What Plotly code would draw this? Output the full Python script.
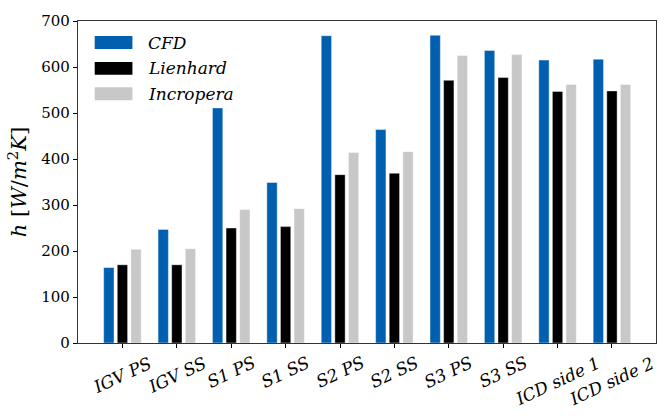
import plotly.graph_objects as go

categories = ["IGV PS", "IGV SS", "S1 PS", "S1 SS", "S2 PS", "S2 SS",
              "S3 PS", "S3 SS", "ICD side 1", "ICD side 2"]
cfd = [164, 247, 511, 349, 668, 464, 669, 636, 615, 617]
lienhard = [170, 170, 250, 253, 366, 369, 571, 577, 547, 548]
incropera = [204, 205, 290, 292, 414, 416, 625, 627, 562, 562]

series_names = ["CFD", "Lienhard", "Incropera"]
series_values = [cfd, lienhard, incropera]
colors = ["#005fae", "#000000", "#c8c8c8"]

W, H = 670, 416
L, R, T, B = 78.3, 656.0, 14.0, 343.3
SERIF = "DejaVu Serif"

fig = go.Figure()
bw = 0.19
offsets = [-0.25, 0.0, 0.25]
xs = list(range(len(categories)))
for name, vals, col, off in zip(series_names, series_values, colors, offsets):
    fig.add_trace(go.Bar(
        x=xs, y=vals, name=name, width=bw, offset=off - bw / 2,
        marker=dict(color=col, line=dict(width=0.6, color="rgba(255,255,255,0.7)")),
        showlegend=False,
    ))

def px_x(p):
    return (p - L) / (R - L)

def px_y(p):
    return (B - p) / (B - T)

shapes = []
annotations = []
# legend drawn manually (patch + label)
leg_rows = [(29.3, 42.7), (56.0, 69.0), (81.7, 95.0)]
for (y0, y1), name, col in zip(leg_rows, series_names, colors):
    shapes.append(dict(type="rect", xref="paper", yref="paper",
                       x0=px_x(95), x1=px_x(132.7), y0=px_y(y1), y1=px_y(y0),
                       fillcolor=col, line=dict(width=0)))
    annotations.append(dict(xref="paper", yref="paper", x=px_x(146), y=px_y((y0 + y1) / 2),
                            text="<i>%s</i>" % name, showarrow=False, xanchor="left",
                            yanchor="middle", font=dict(family=SERIF, size=17, color="black")))

# rotated category labels, centred below ticks
for i, c in enumerate(categories):
    annotations.append(dict(xref="x", yref="paper", x=i, y=0, yshift=-7,
                            text="<i>%s</i>" % c, showarrow=False,
                            textangle=-25, xanchor="center", yanchor="top",
                            font=dict(family=SERIF, size=17, color="black")))

fig.update_layout(
    width=W, height=H,
    margin=dict(l=L, r=W - R, t=T, b=H - B, pad=0),
    plot_bgcolor="white", paper_bgcolor="white",
    barmode="overlay",
    font=dict(family=SERIF, color="black"),
    shapes=shapes, annotations=annotations,
    xaxis=dict(range=[-0.817, 9.81], tickvals=xs,
               showticklabels=False, ticks="outside", ticklen=4, tickcolor="black",
               showline=True, linecolor="#333333", linewidth=1.2, mirror=True,
               showgrid=False, zeroline=False),
    yaxis=dict(range=[0, 700], tickvals=[0, 100, 200, 300, 400, 500, 600, 700],
               ticks="outside", ticklen=4, tickcolor="black",
               tickfont=dict(family=SERIF, size=15, color="black"),
               showline=True, linecolor="#333333", linewidth=1.2, mirror=True,
               showgrid=False, zeroline=False,
               title=dict(text="<i>h</i> [<i>W</i>/<i>m</i><sup>2</sup><i>K</i>]",
                          font=dict(family=SERIF, size=21, color="black"), standoff=8)),
)

fig.write_html("out.html")
